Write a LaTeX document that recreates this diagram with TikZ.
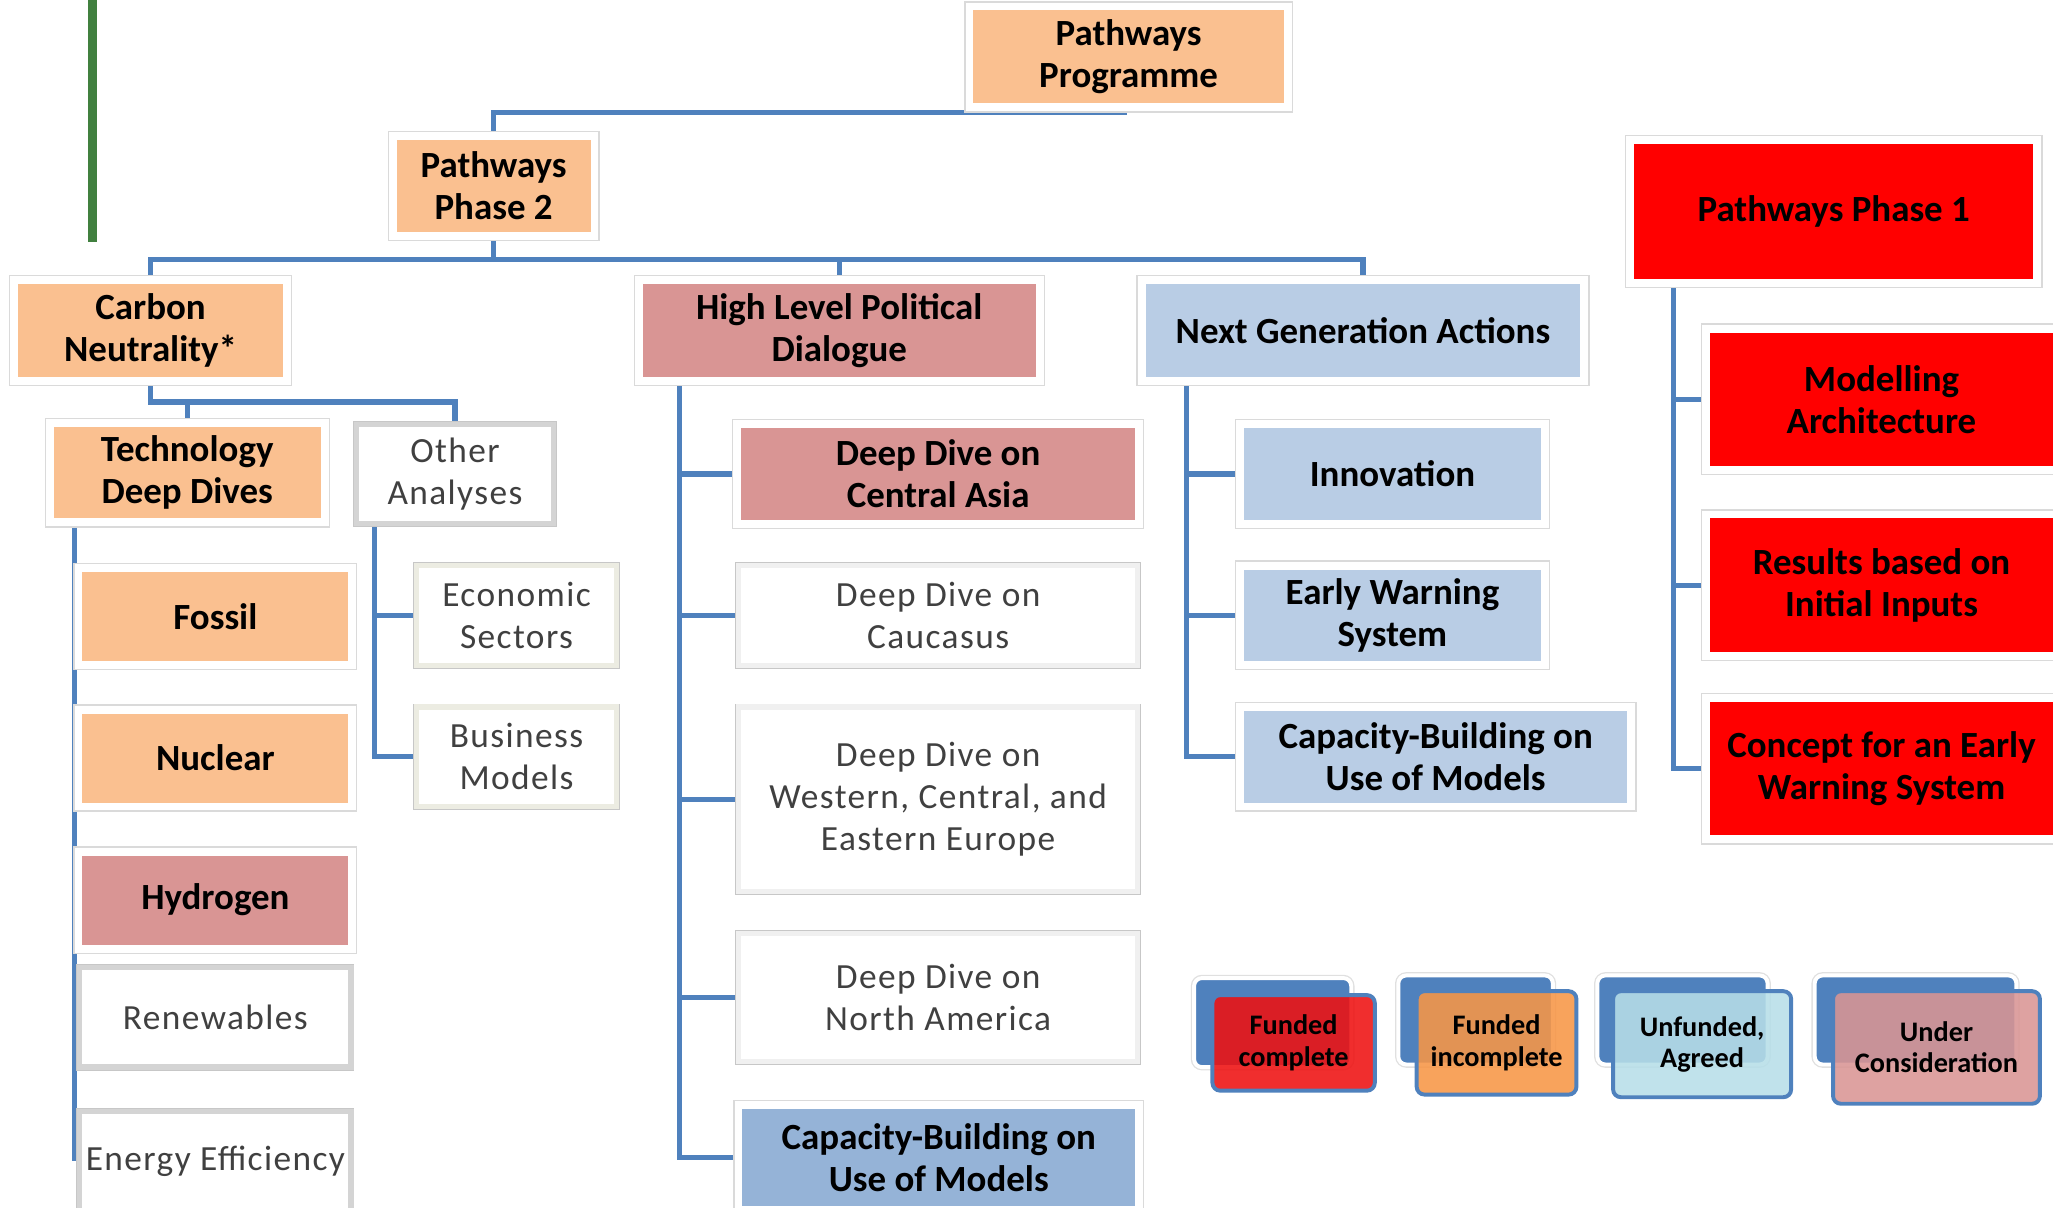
\documentclass[tikz,border=0pt]{standalone}
\usepackage{fontspec}
\setmainfont{Carlito}
\newfontfamily\plainfont[LetterSpace=4]{Carlito}
\usetikzlibrary{positioning, backgrounds, calc}

\definecolor{tileorange}{HTML}{FAC090}
\definecolor{tilepink}{HTML}{D99594}
\definecolor{tileblue}{HTML}{B9CDE5}
\definecolor{tiledeepblue}{HTML}{95B3D7}
\definecolor{tilered}{HTML}{FF0000}
\definecolor{linkblue}{HTML}{4F81BD}
\definecolor{bargreen}{HTML}{41803F}
\definecolor{framegray}{HTML}{DADADA}
\definecolor{plaintext}{HTML}{404040}
\definecolor{plainedge}{HTML}{D4D4D4}
\definecolor{econedge}{HTML}{ECECE2}
\definecolor{ddedge}{HTML}{F0F0F0}
\definecolor{keyred}{HTML}{EE1111}
\definecolor{keyorange}{HTML}{F79646}
\definecolor{keycyan}{HTML}{B7DEE8}

\newcommand{\tilefont}{\fontsize{14.1}{16}\selectfont\bfseries}
\newcommand{\plaintilefont}{\plainfont\fontsize{13.5}{16}\selectfont}
\newcommand{\keyfont}{\fontsize{10.8}{12}\selectfont\bfseries}

\begin{document}
\begin{tikzpicture}[
            x=0.5pt, y=-0.5pt,
            boxsize/.style 2 args={minimum width=#1*0.5pt, minimum height=#2*0.5pt},
            tile/.style={
                inner sep=0pt, align=center, text=black, font=\tilefont,
                draw=white, line width=3pt,
                preaction={draw=framegray, line width=4pt}
            },
            plaintile/.style={
                inner sep=0pt, align=center, text=plaintext, font=\plaintilefont,
                fill=white, draw=#1, line width=2pt,
                preaction={draw=black!22, line width=2.6pt}
            },
            plaintile/.default=plainedge,
            keyback/.style={
                inner sep=0pt, fill=linkblue, draw=white, line width=1.5pt,
                rounded corners=3pt, preaction={draw=black!12, line width=2.5pt}
            },
            keyfront/.style={
                inner sep=0pt, align=center, font=\keyfont, text=black,
                draw=linkblue, line width=1.5pt, rounded corners=3pt,
                fill opacity=0.88, text opacity=1
            },
            link/.style={draw=linkblue, line width=2pt},
            bar/.style={draw=bargreen, line width=3.5pt}
        ]
        \useasboundingbox (0,0) rectangle (1568,922);

        % top of the tree
        \node[tile, fill=tileorange, boxsize={243}{77}] (prog) at (862,43.5) {Pathways\\Programme};
        \node[tile, fill=tileorange, boxsize={154}{76}] (ph2) at (377,142) {Pathways\\Phase 2};
        \node[tile, fill=tileorange, boxsize={208}{77}] (carbon) at (115,252.5) {Carbon\\Neutrality*};
        \node[tile, fill=tilepink, boxsize={306}{77}] (hlpd) at (641,252.5) {High Level Political\\Dialogue};
        \node[tile, fill=tileblue, boxsize={338}{77}] (nga) at (1041,252.5) {Next Generation Actions};

        % carbon neutrality branch
        \node[tile, fill=tileorange, boxsize={210}{76}] (tdd) at (143,361) {Technology\\Deep Dives};
        \node[plaintile, boxsize={151}{76}] (other) at (347.5,362) {Other\\Analyses};
        \node[tile, fill=tileorange, boxsize={209}{74}] (fossil) at (164.5,471) {Fossil};
        \node[tile, fill=tileorange, boxsize={209}{74}] (nuclear) at (164.5,579) {Nuclear};
        \node[tile, fill=tilepink, boxsize={209}{74}] (hydrogen) at (164.5,687.5) {Hydrogen};
        \node[plaintile, boxsize={207}{76}] (renew) at (164.5,777) {Renewables};
        \node[plaintile, boxsize={207}{76}] (eneff) at (164.5,887) {Energy Efficiency};
        \node[plaintile=econedge, boxsize={153}{76}] (econ) at (394.5,470) {Economic\\Sectors};
        \node[plaintile=econedge, boxsize={153}{76}] (busi) at (394.5,578) {Business\\Models};

        % political dialogue branch
        \node[tile, fill=tilepink, boxsize={307}{76}] (ddca) at (716.5,362) {Deep Dive on\\Central Asia};
        \node[plaintile=ddedge, boxsize={305}{76}] (ddcau) at (716.5,470) {Deep Dive on\\Caucasus};
        \node[plaintile=ddedge, boxsize={305}{141}] (ddwe) at (716.5,610.5) {Deep Dive on\\Western, Central, and\\Eastern Europe};
        \node[plaintile=ddedge, boxsize={305}{98}] (ddna) at (716.5,762) {Deep Dive on\\North America};
        \node[tile, fill=tiledeepblue, boxsize={306}{80}] (capl) at (717,884) {Capacity-Building on\\Use of Models};

        % next generation branch
        \node[tile, fill=tileblue, boxsize={233}{76}] (innov) at (1063.5,362) {Innovation};
        \node[tile, fill=tileblue, boxsize={233}{76}] (ews) at (1063.5,470) {Early Warning\\System};
        \node[tile, fill=tileblue, boxsize={299}{76}] (capr) at (1096.5,578) {Capacity-Building on\\Use of Models};

        % phase 1
        \node[tile, fill=tilered, boxsize={311}{109}] (ph1) at (1400.5,161.5) {Pathways Phase 1};
        \node[tile, fill=tilered, boxsize={268}{108}] (model) at (1437,305) {Modelling\\Architecture};
        \node[tile, fill=tilered, boxsize={268}{108}] (results) at (1437,447) {Results based on\\Initial Inputs};
        \node[tile, fill=tilered, boxsize={268}{108}] (concept) at (1437,587) {Concept for an Early\\Warning System};

        % legend
        \node[keyback, boxsize={120}{68}] (k1back) at (972,781) {};
        \node[keyfront, fill=keyred, boxsize={124}{73}] (k1) at (988,796.5) {Funded\\complete};
        \node[keyback, boxsize={118}{68}] (k2back) at (1127,779) {};
        \node[keyfront, fill=keyorange, boxsize={122}{79}] (k2) at (1143,796.5) {Funded\\incomplete};
        \node[keyback, boxsize={130}{68}] (k3back) at (1285,779) {};
        \node[keyfront, fill=keycyan, boxsize={136}{81}] (k3) at (1300,797.5) {Unfunded,\\Agreed};
        \node[keyback, boxsize={154}{68}] (k4back) at (1463,779) {};
        \node[keyfront, fill=tilepink, boxsize={158}{86}] (k4) at (1479,800) {Under\\Consideration};

        \begin{scope}[on background layer]
            \draw[bar] (70.5,0) -- (70.5,185);

            \draw[link] ([xshift=-1.5pt]prog.south) -- ++(0,1) -| (ph2.north);
            \draw[link] (ph2.south) -- ++(0,15) coordinate (phbus);
            \draw[link] (carbon.north) |- (phbus) -| (nga.north);
            \draw[link] (hlpd.north) -- (hlpd.north |- phbus);

            \draw[link] (carbon.south) -- ++(0,13) coordinate (cnbus) -| (other.north);
            \draw[link] (tdd.north) -- (tdd.north |- cnbus);
            \draw[link] (tdd.south -| fossil.west) -- (fossil.west |- eneff.west);

            \draw[link] ($(other.south west)+(16,0)$) coordinate (oatrunk) |- (busi.west);
            \draw[link] (oatrunk |- econ.west) -- (econ.west);

            \draw[link] ($(hlpd.south west)+(34,0)$) coordinate (hltrunk) |- (capl.west);
            \foreach \n in {ddca,ddcau,ddwe,ddna}
                \draw[link] (hltrunk |- \n.west) -- (\n.west);

            \draw[link] ($(nga.south west)+(37,0)$) coordinate (ngtrunk) |- (capr.west);
            \foreach \n in {innov,ews}
                \draw[link] (ngtrunk |- \n.west) -- (\n.west);

            \draw[link] ($(ph1.south west)+(36,0)$) coordinate (p1trunk) |- (concept.west);
            \foreach \n in {model,results}
                \draw[link] (p1trunk |- \n.west) -- (\n.west);
        \end{scope}
    \end{tikzpicture}
\end{document}
